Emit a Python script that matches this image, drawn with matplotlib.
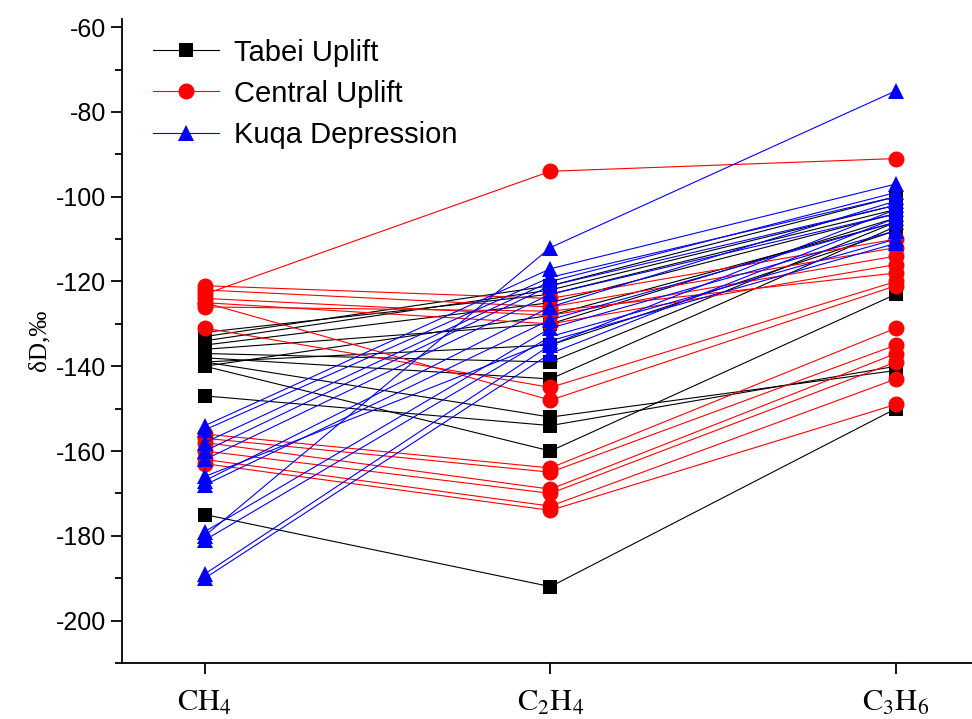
import numpy as np
import matplotlib
matplotlib.use('Agg')
import matplotlib.pyplot as plt
from matplotlib.ticker import MultipleLocator

plt.rcParams['font.family'] = ['Liberation Sans', 'DejaVu Sans']
plt.rcParams['mathtext.fontset'] = 'stix'
plt.rcParams['axes.unicode_minus'] = False

species = [r'$\mathrm{CH_4}$', r'$\mathrm{C_2H_4}$', r'$\mathrm{C_3H_6}$']

# dD values (permil) per sample: CH4, C2H4, C3H6
tabei = [
    [-175, -192, -150],
    [-147, -154, -140],
    [-140, -160, -123],
    [-139, -152, -141],
    [-138, -143, -107],
    [-137, -139, -106],
    [-136, -130, -105],
    [-135, -125, -104],
    [-134, -122, -102],
    [-133, -121, -100],
    [-132, -123, -103],
    [-139, -135, -108],
    [-140, -128, -106],
]
central = [
    [-123, -94, -91],
    [-121, -124, -110],
    [-122, -126, -112],
    [-124, -128, -114],
    [-125, -130, -116],
    [-126, -127, -118],
    [-131, -145, -120],
    [-125, -148, -121],
    [-156, -164, -131],
    [-157, -165, -135],
    [-158, -169, -137],
    [-160, -170, -139],
    [-162, -173, -143],
    [-163, -174, -149],
]
kuqa = [
    [-180, -112, -75],
    [-154, -117, -97],
    [-155, -119, -100],
    [-160, -121, -102],
    [-162, -123, -104],
    [-167, -126, -101],
    [-168, -129, -106],
    [-179, -131, -108],
    [-181, -133, -110],
    [-189, -135, -103],
    [-190, -137, -105],
    [-158, -120, -99],
    [-166, -134, -111],
]

groups = [
    ('Tabei Uplift', tabei, 'black', 's', 10.5),
    ('Central Uplift', central, 'red', 'o', 11.5),
    ('Kuqa Depression', kuqa, 'blue', '^', 11.5),
]

fig = plt.figure(figsize=(9.72, 7.19), dpi=100)
ax = fig.add_axes([0.1255, 0.078, 0.8745, 0.896])

x = np.arange(len(species))
for name, rows, color, marker, ms in groups:
    for i, row in enumerate(rows):
        ax.plot(x, row, color=color, lw=0.8, marker=marker, ms=ms,
                markeredgewidth=0, label=name if i == 0 else None)

ax.set_xlim(-0.24, 2.22)
ax.set_ylim(-210, -58)
ax.set_xticks(x)
ax.set_xticklabels(species, fontsize=22)
ax.yaxis.set_major_locator(MultipleLocator(20))
ax.yaxis.set_minor_locator(MultipleLocator(10))
ax.set_yticks(np.arange(-200, -59, 20))
ax.tick_params(axis='y', which='major', labelsize=18, length=8, width=1.3)
ax.tick_params(axis='y', which='minor', length=5, width=1.3)
ax.tick_params(axis='x', which='major', length=8, width=1.3, pad=10)
ax.set_ylabel('δD,‰', family=['Liberation Serif', 'DejaVu Serif'], fontsize=18)

ax.spines['top'].set_visible(False)
ax.spines['right'].set_visible(False)
for s in ['left', 'bottom']:
    ax.spines[s].set_linewidth(1.3)

ax.legend(loc='upper left', bbox_to_anchor=(0.006, 1.01), frameon=False,
          fontsize=21, handlelength=2.25, labelspacing=0.45, handletextpad=0.5)

fig.savefig('out.png', dpi=100)
